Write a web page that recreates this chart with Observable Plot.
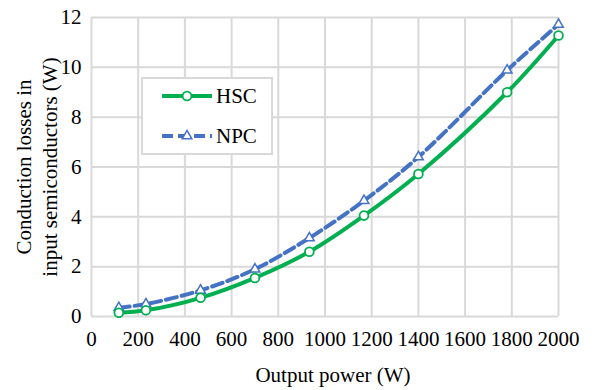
<!DOCTYPE html>
<html>
<head>
<meta charset="utf-8">
<script src="https://cdn.jsdelivr.net/npm/d3@7"></script>
<script src="https://cdn.jsdelivr.net/npm/@observablehq/plot@0.6"></script>
<style>
  html, body { margin: 0; padding: 0; background: #fff; }
  #wrap { position: relative; width: 598px; height: 390px; }
  #legend { position: absolute; left: 141px; top: 77px; width: 128px; height: 74px;
            border: 2px solid #d9d9d9; background: #fff; }
</style>
</head>
<body>
<div id="wrap"><div id="chart"></div><div id="legend"></div></div>
<script>
const power = [117, 233, 467, 700, 933, 1167, 1400, 1780, 2000];
const hsc = [0.15, 0.25, 0.75, 1.55, 2.6, 4.05, 5.72, 9.0, 11.28];
const npc = [0.35, 0.5, 1.05, 1.9, 3.15, 4.65, 6.4, 9.88, 11.72];
const seriesNames = ["HSC", "NPC"];
const colors = ["#00b050", "#4472c4"];
const xTicks = d3.range(0, 2001, 200);
const yTicks = d3.range(0, 13, 2);

const hscData = power.map((p, i) => ({x: p, y: hsc[i]}));
const npcData = power.map((p, i) => ({x: p, y: npc[i]}));
const font = "Liberation Serif, Times New Roman, serif";
const fs = 21;

const chart = Plot.plot({
  width: 598, height: 390,
  marginLeft: 91, marginRight: 40, marginTop: 17, marginBottom: 74,
  style: {fontFamily: font, fontSize: fs + "px", color: "#000", background: "#fff"},
  x: {domain: [0, 2000], label: null},
  y: {domain: [0, 12], label: null},
  marks: [
    Plot.gridX(xTicks, {stroke: "#d9d9d9", strokeOpacity: 1, strokeWidth: 2}),
    Plot.gridY(yTicks, {stroke: "#d9d9d9", strokeOpacity: 1, strokeWidth: 2}),
    Plot.axisX({ticks: xTicks, tickSize: 0, tickPadding: 15, fontSize: fs, tickFormat: d => String(d), fill: "#000"}),
    Plot.axisY({ticks: yTicks, tickSize: 0, tickPadding: 10, fontSize: fs, tickFormat: d => String(d), fill: "#000"}),
    Plot.line(npcData, {x: "x", y: "y", stroke: colors[1], strokeWidth: 4, strokeDasharray: "11,5", curve: "catmull-rom"}),
    Plot.line(hscData, {x: "x", y: "y", stroke: colors[0], strokeWidth: 4, curve: "catmull-rom"}),
    Plot.dot(npcData, {x: "x", y: "y", symbol: "triangle", r: 3.6, fill: "#fff", stroke: colors[1], strokeWidth: 1.5}),
    Plot.dot(hscData, {x: "x", y: "y", symbol: "circle", r: 4.4, fill: "#fff", stroke: colors[0], strokeWidth: 1.8}),
    Plot.text(["Conduction losses in\ninput semiconductors (W)"], {frameAnchor: "left", textAnchor: "middle", lineAnchor: "middle", rotate: -90, dx: -56, fontSize: fs, lineHeight: 1.24, fill: "#000"}),
    Plot.text(["Output power (W)"], {frameAnchor: "bottom", textAnchor: "middle", dy: 65, dx: 8, fontSize: fs, fill: "#000"})
  ]
});
document.getElementById("chart").appendChild(chart);

// Legend
const lg = d3.select("#legend").append("svg").attr("width", 128).attr("height", 74)
  .style("font-family", font).style("font-size", fs + "px");
seriesNames.forEach((name, i) => {
  const y = i === 0 ? 17 : 57;
  const g = lg.append("g");
  g.append("line").attr("x1", 19).attr("x2", 69).attr("y1", y).attr("y2", y)
    .attr("stroke", colors[i]).attr("stroke-width", 4)
    .attr("stroke-dasharray", i === 1 ? "11,5" : null);
  if (i === 0) {
    g.append("circle").attr("cx", 44).attr("cy", y).attr("r", 4.4)
      .attr("fill", "#fff").attr("stroke", colors[i]).attr("stroke-width", 1.8);
  } else {
    const s = d3.symbol(d3.symbolTriangle, Math.PI * 3.6 * 3.6)();
    g.append("path").attr("d", s).attr("transform", `translate(44,${y})`)
      .attr("fill", "#fff").attr("stroke", colors[i]).attr("stroke-width", 1.5);
  }
  g.append("text").attr("x", 73).attr("y", y).attr("dy", "0.35em").text(name);
});
</script>
</body>
</html>
